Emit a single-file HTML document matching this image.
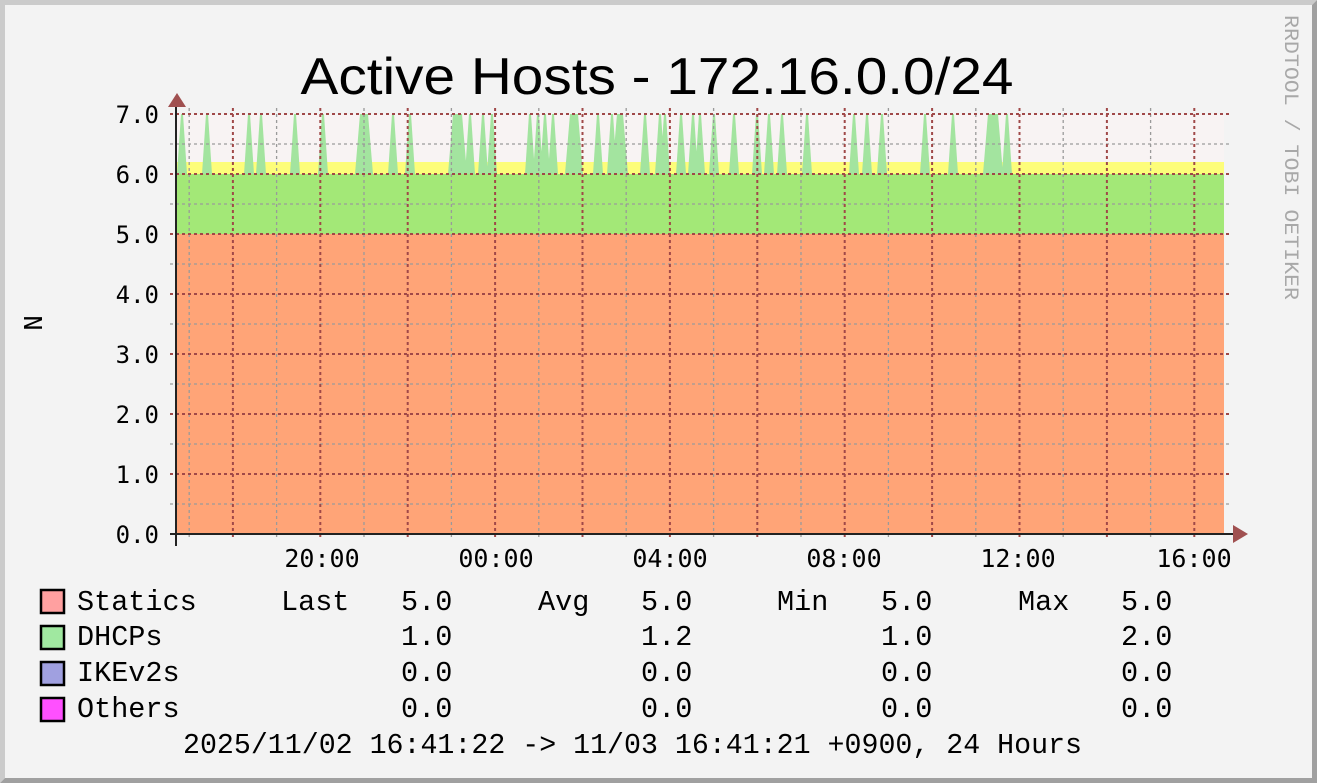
<!DOCTYPE html>
<html><head><meta charset="utf-8"><style>
html,body{margin:0;padding:0;background:#f3f3f3}
svg{display:block}
</style></head><body>
<svg width="1317" height="783" viewBox="0 0 1317 783" xmlns="http://www.w3.org/2000/svg">
<rect x="0" y="0" width="1317" height="783" fill="#f3f3f3"/>
<polygon points="0,0 1317,0 1312,5 5,5 5,778 0,783" fill="#cbcbcb"/>
<polygon points="1317,0 1317,783 0,783 5,778 1312,778 1312,5" fill="#a0a0a0"/>
<text x="657" y="94" font-family="Liberation Sans, sans-serif" font-size="52" text-anchor="middle" textLength="713" lengthAdjust="spacingAndGlyphs" fill="#000">Active Hosts - 172.16.0.0/24</text>
<text transform="translate(1285,15) rotate(90)" font-family="Liberation Mono, DejaVu Sans Mono, monospace" font-size="20" fill="#a8a8a8" textLength="285" lengthAdjust="spacingAndGlyphs">RRDTOOL / TOBI OETIKER</text>
<rect x="176" y="114" width="1048" height="48" fill="#f8f3f3"/>
<rect x="176" y="162" width="1048" height="12" fill="#fdfd7a"/>
<rect x="176" y="174" width="1048" height="60" fill="#a3e877"/>
<rect x="176" y="234" width="1048" height="300" fill="#ffa477"/>
<g fill="#a3e49f">
<path d="M177,174L181,114L183,114L187,174Z M202,174L206,114L208,114L212,174Z M244,174L248,114L250,114L254,174Z M256,174L260,114L262,114L266,174Z M290,174L294,114L296,114L300,174Z M318,174L322,114L324,114L328,174Z M355,174L360,114L368,114L373,174Z M388,174L392,114L394,114L398,174Z M405,174L409,114L411,114L415,174Z M448,174L453,114L462,114L467,174Z M465,174L469,114L471,114L475,174Z M478,174L482,114L484,114L488,174Z M487,174L491,114L493,114L497,174Z M525,174L529,114L531,114L535,174Z M533,174L537,114L539,114L543,174Z M540,174L544,114L546,114L550,174Z M548,174L552,114L554,114L558,174Z M565,174L570,114L578,114L583,174Z M593,174L597,114L599,114L603,174Z M607,174L611,114L613,114L617,174Z M612,174L617,114L623,114L628,174Z M640,174L644,114L646,114L650,174Z M655,174L659,114L661,114L665,174Z M660,174L664,114L666,114L670,174Z M676,174L680,114L682,114L686,174Z M688,174L692,114L694,114L698,174Z M695,174L699,114L701,114L705,174Z M709,174L713,114L715,114L719,174Z M729,174L733,114L735,114L739,174Z M752,174L756,114L758,114L762,174Z M764,174L768,114L770,114L774,174Z M777,174L781,114L783,114L787,174Z M802,174L806,114L808,114L812,174Z M849,174L853,114L855,114L859,174Z M862,174L866,114L868,114L872,174Z M877,174L881,114L883,114L887,174Z M920,174L924,114L926,114L930,174Z M948,174L952,114L954,114L958,174Z M983,174L988,114L998,114L1003,174Z M1002,174L1006,114L1008,114L1012,174Z"/>
</g>
<g stroke="#9a9a9a" stroke-width="1.3" stroke-dasharray="3,3" fill="none">
<path d="M170,144H1232M170,204H1232M170,264H1232M170,324H1232M170,384H1232M170,444H1232M170,504H1232"/>
<path d="M189.2,108V540M276.6,108V540M364,108V540M451.4,108V540M538.8,108V540M626.2,108V540M713.6,108V540M801,108V540M888.4,108V540M975.8,108V540M1063.2,108V540M1150.6,108V540"/>
</g>
<g stroke="#a04848" stroke-width="2" stroke-dasharray="3,3" fill="none">
<path d="M170,114H1232M170,174H1232M170,234H1232M170,294H1232M170,354H1232M170,414H1232M170,474H1232"/>
<path d="M232.9,108V540M320.3,108V540M407.7,108V540M495.1,108V540M582.5,108V540M669.9,108V540M757.3,108V540M844.7,108V540M932.1,108V540M1019.5,108V540M1106.9,108V540M1194.3,108V540"/>
</g>
<path d="M176,546V104M170,534H1234" stroke="#222" stroke-width="2" fill="none"/>
<polygon points="168,107 186,107 177,93" fill="#a05050"/>
<polygon points="1233,525 1233,543 1248,534" fill="#a05050"/>
<g font-family="DejaVu Sans Mono, monospace" font-size="24" fill="#000" text-anchor="end">
<text x="159" y="123">7.0</text><text x="159" y="183">6.0</text><text x="159" y="243">5.0</text><text x="159" y="303">4.0</text><text x="159" y="363">3.0</text><text x="159" y="423">2.0</text><text x="159" y="483">1.0</text><text x="159" y="543">0.0</text>
</g>
<g font-family="DejaVu Sans Mono, monospace" font-size="25" fill="#000" text-anchor="middle">
<text x="322" y="567">20:00</text><text x="496" y="567">00:00</text><text x="670" y="567">04:00</text><text x="844" y="567">08:00</text><text x="1018" y="567">12:00</text><text x="1194" y="567">16:00</text>
</g>
<text transform="translate(42,323) rotate(-90)" font-family="DejaVu Sans Mono, monospace" font-size="25" text-anchor="middle" fill="#000">N</text>
<g stroke="#000" stroke-width="2.5">
<rect x="41" y="590" width="23" height="23" fill="#ffa0a0"/>
<rect x="41" y="626" width="23" height="23" fill="#a0e8a0"/>
<rect x="41" y="662" width="23" height="23" fill="#a0a0e0"/>
<rect x="41" y="698" width="23" height="23" fill="#ff50ff"/>
</g>
<g font-family="Liberation Mono, monospace" font-size="28.5" fill="#000" xml:space="preserve">
<text x="77" y="610">Statics</text><text x="281" y="610">Last</text><text x="401" y="610">5.0</text><text x="538" y="610">Avg</text><text x="641" y="610">5.0</text><text x="777" y="610">Min</text><text x="881" y="610">5.0</text><text x="1018" y="610">Max</text><text x="1121" y="610">5.0</text>
<text x="77" y="645">DHCPs</text><text x="401" y="645">1.0</text><text x="641" y="645">1.2</text><text x="881" y="645">1.0</text><text x="1121" y="645">2.0</text>
<text x="77" y="681">IKEv2s</text><text x="401" y="681">0.0</text><text x="641" y="681">0.0</text><text x="881" y="681">0.0</text><text x="1121" y="681">0.0</text>
<text x="77" y="717">Others</text><text x="401" y="717">0.0</text><text x="641" y="717">0.0</text><text x="881" y="717">0.0</text><text x="1121" y="717">0.0</text>
<text x="183" y="753" textLength="899" lengthAdjust="spacingAndGlyphs">2025/11/02 16:41:22 -&gt; 11/03 16:41:21 +0900, 24 Hours</text>
</g>
</svg>
</body></html>
